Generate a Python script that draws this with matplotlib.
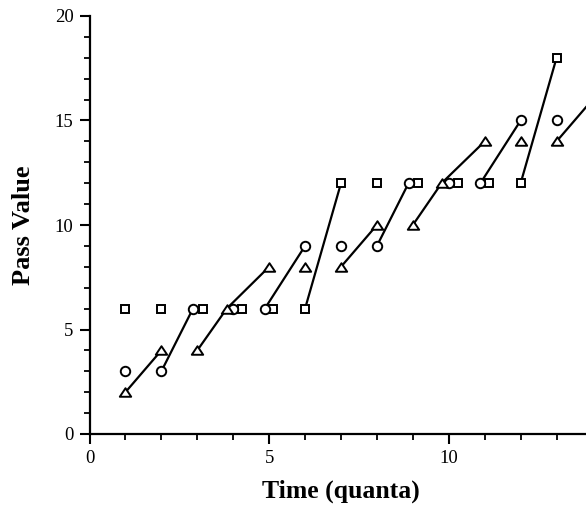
import matplotlib
matplotlib.use("Agg")
import matplotlib.pyplot as plt
from matplotlib.path import Path

# pass values of the three clients at each quantum;
# x positions include the small sideways nudge used where markers coincide
sq_time = [1, 2, 3.15, 4.25, 5.12, 6, 7, 8, 9.15, 10.25, 11.12, 12, 13, 14]
sq_pass = [6, 6, 6, 6, 6, 6, 12, 12, 12, 12, 12, 12, 18, 18]

ci_time = [1, 2, 2.88, 4, 4.88, 6, 7, 8, 8.88, 10, 10.88, 12, 13, 14]
ci_pass = [3, 3, 6, 6, 6, 9, 9, 9, 12, 12, 12, 15, 15, 15]

tr_time = [1, 2, 3, 3.82, 5, 6, 7, 8, 9, 9.8, 11, 12, 13, 14]
tr_pass = [2, 4, 4, 6, 8, 8, 8, 10, 10, 12, 14, 14, 14, 16]

# index of the quantum at which each client was picked to run
sq_runs = [5, 11]
ci_runs = [1, 4, 7, 10]
tr_runs = [0, 2, 3, 6, 8, 9, 12]

plt.rcParams["font.family"] = ["Liberation Serif", "DejaVu Serif"]

# slightly flattened triangle, like the scanned original
flat_tri = Path([(0, 0.75), (-1, -0.75), (1, -0.75), (0, 0.75)],
                [Path.MOVETO, Path.LINETO, Path.LINETO, Path.CLOSEPOLY])

fig = plt.figure(figsize=(5.86, 5.08), dpi=100)
ax = fig.add_axes([89.5 / 586, 74 / 508, 503 / 586, 418 / 508])


def draw(xs, ys, runs, marker, ms):
    for i in runs:
        ax.plot([xs[i], xs[i + 1]], [ys[i], ys[i + 1]], color="black", lw=1.6,
                solid_capstyle="butt", clip_on=False, zorder=2)
    ax.plot(xs, ys, linestyle="none", marker=marker, ms=ms, mfc="white",
            mec="black", mew=1.4, clip_on=False, zorder=3)


draw(sq_time, sq_pass, sq_runs, "s", 6.2)
draw(ci_time, ci_pass, ci_runs, "o", 6.8)
draw(tr_time, tr_pass, tr_runs, flat_tri, 8.2)

ax.set_xlim(0, 14)
ax.set_ylim(0, 20)
ax.set_xticks([0, 5, 10])
ax.set_xticks(range(0, 15), minor=True)
ax.set_yticks([0, 5, 10, 15, 20])
ax.set_yticks(range(0, 21), minor=True)
ax.spines["top"].set_visible(False)
ax.spines["right"].set_visible(False)
for s in ("left", "bottom"):
    ax.spines[s].set_linewidth(1.6)
ax.tick_params(which="major", length=7.5, width=1.5, labelsize=13.5, pad=4)
ax.tick_params(which="minor", length=4, width=1.3)

ax.set_xlabel("Time (quanta)", fontsize=18.5, fontweight="bold", labelpad=9)
ax.set_ylabel("Pass Value", fontsize=19, fontweight="bold", labelpad=14)

fig.savefig("out.png", dpi=100)
